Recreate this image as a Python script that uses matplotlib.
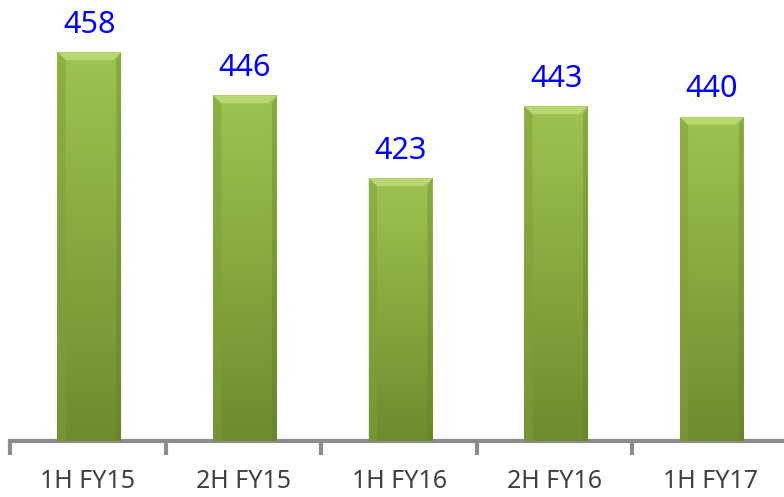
import numpy as np
import matplotlib.pyplot as plt
from matplotlib.colors import LinearSegmentedColormap
from matplotlib.patches import Polygon

periods = ['1H FY15', '2H FY15', '1H FY16', '2H FY16', '1H FY17']
values = [458, 446, 423, 443, 440]

plt.rcParams['font.family'] = ['Noto Sans', 'DejaVu Sans']

fig = plt.figure(figsize=(7.84, 4.97), dpi=100)
ax = fig.add_axes([10 / 784, 56 / 497, 778 / 784, 432 / 497])
ax.set_xlim(-0.5, 4.5)
ax.set_ylim(350, 470)

x = np.arange(len(periods))
bar_w = 0.41
bars = ax.bar(x + 0.01, values, width=bar_w, color='#8aaa45', edgecolor='none', zorder=2)

# vertical gradient inside each bar (light green at top, olive at bottom)
grad_cmap = LinearSegmentedColormap.from_list('g', ['#6c8c2e', '#86a83f', '#9ec351'])
grad = np.linspace(0, 1, 256).reshape(-1, 1)
for b in bars:
    x0, w, h = b.get_x(), b.get_width(), b.get_height()
    im = ax.imshow(grad, cmap=grad_cmap, origin='lower', aspect='auto',
                   extent=[x0, x0 + w, 350, h], zorder=3)
    im.set_clip_path(b)
    # bevel at top of bar
    dx = w * 0.13
    dy = 2.2
    ax.add_patch(Polygon([[x0, h], [x0 + w, h], [x0 + w - dx, h - dy], [x0 + dx, h - dy]],
                         closed=True, color='#b8d872', zorder=4, lw=0))
    ax.add_patch(Polygon([[x0, h], [x0 + dx, h - dy], [x0 + dx, 350], [x0, 350]],
                         closed=True, color='#7e9f3a', alpha=0.5, zorder=4, lw=0))
    ax.add_patch(Polygon([[x0 + w, h], [x0 + w - dx * 0.6, h - dy], [x0 + w - dx * 0.6, 350], [x0 + w, 350]],
                         closed=True, color='#5f7d28', alpha=0.35, zorder=4, lw=0))
    ax.text(x0 + w / 2, h + 3.5, str(int(h)), ha='center', va='bottom',
            color='#0000ff', fontsize=22, zorder=5)

for s in ['top', 'right', 'left']:
    ax.spines[s].set_visible(False)
ax.spines['bottom'].set_color('#8c8c8c')
ax.spines['bottom'].set_linewidth(3)

ax.set_yticks([])
ax.set_xticks(np.arange(-0.5, 5.0, 1.0), minor=False)
ax.set_xticklabels([])
ax.tick_params(axis='x', which='major', length=10, width=3, color='#8c8c8c', direction='out')
ax.set_xticks(x, minor=True)
ax.set_xticklabels(periods, minor=True)
ax.tick_params(axis='x', which='minor', length=0, pad=20, labelsize=18, labelcolor='#404040')

fig.savefig('out.png', dpi=100)
